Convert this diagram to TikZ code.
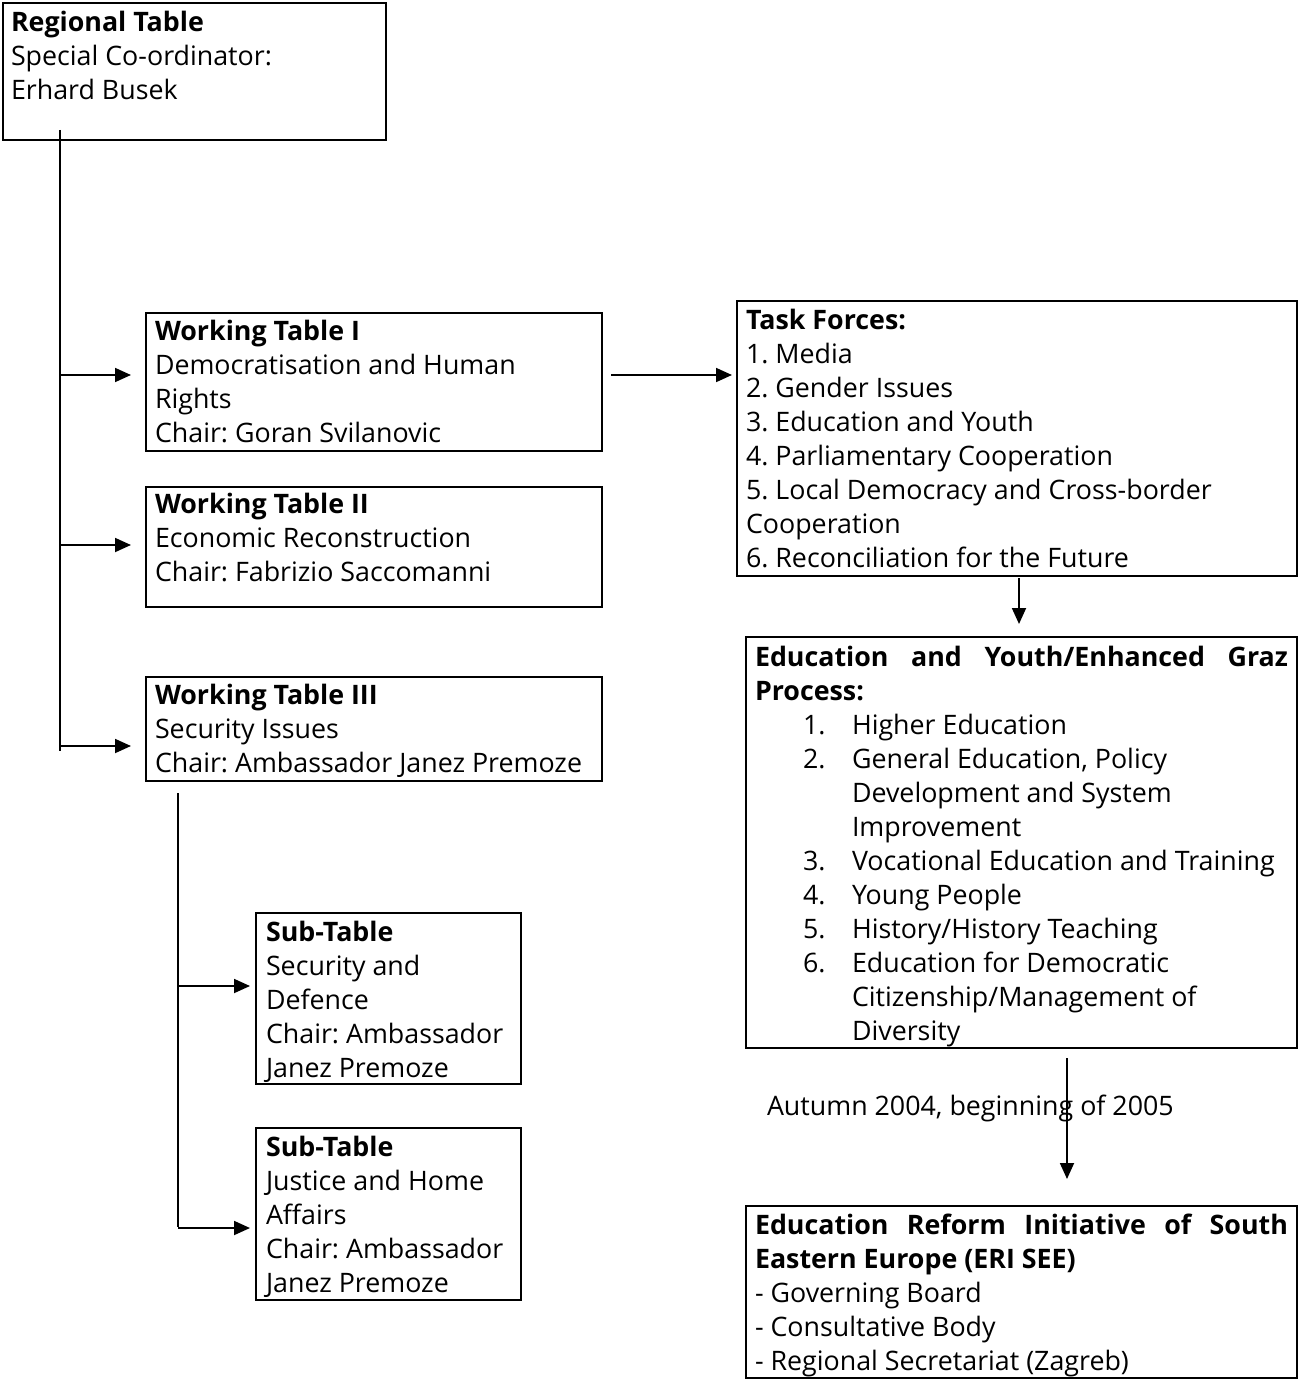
\documentclass[tikz,border=0pt]{standalone}
\usepackage{fontspec}
\setmainfont{Open Sans}
\usetikzlibrary{arrows.meta,calc}
\frenchspacing
\begin{document}
\begin{tikzpicture}[x=1pt,y=-1pt,
  box/.style={draw, line width=1.8pt, inner sep=0pt, outer sep=0pt, anchor=north west},
  txt/.style={inner sep=0pt, outer sep=0pt, anchor=north west, align=left, font=\fontsize{26.8}{34}\selectfont},
  arr/.style={line width=1.8pt, -{Triangle[length=16pt,width=14pt]}},
  ln/.style={line width=1.8pt}]
\useasboundingbox (0,0) rectangle (1298,1380);
% boxes
\node[box, minimum width=383pt, minimum height=137pt] (rt) at (3,3) {};
\node[box, minimum width=456pt, minimum height=138pt] (wt1) at (146,313) {};
\node[box, minimum width=456pt, minimum height=120pt] (wt2) at (146,487) {};
\node[box, minimum width=456pt, minimum height=104pt] (wt3) at (146,677) {};
\node[box, minimum width=560pt, minimum height=275pt] (tf) at (737,301) {};
\node[box, minimum width=551pt, minimum height=411pt] (edu) at (746,637) {};
\node[box, minimum width=551pt, minimum height=172pt] (eri) at (746,1206) {};
\node[box, minimum width=265pt, minimum height=171pt] (st1) at (256,913) {};
\node[box, minimum width=265pt, minimum height=172pt] (st2) at (256,1128) {};
% texts
\node[txt] (rtt) at (11,8) {\strut\textbf{Regional Table}\\Special Co-ordinator:\\Erhard Busek};
\node[txt] (wt1t) at (155,317) {\strut\textbf{Working Table I}\\Democratisation and Human\\Rights\\Chair: Goran Svilanovic};
\node[txt] (wt2t) at (155,490) {\strut\textbf{Working Table II}\\Economic Reconstruction\\Chair: Fabrizio Saccomanni};
\node[txt] (wt3t) at (155,681) {\strut\textbf{Working Table III}\\Security Issues\\Chair: Ambassador Janez Premoze};
\node[txt] (tft) at (746,306) {\strut\textbf{Task Forces:}\\1. Media\\2. Gender Issues\\3. Education and Youth\\4. Parliamentary Cooperation\\5. Local Democracy and Cross-border\\Cooperation\\6. Reconciliation for the Future};
\node[txt] (edut) at (755,643) {\strut\makebox[533pt][s]{\textbf{Education and Youth/Enhanced Graz}}\\\textbf{Process:}\\
\hspace*{48pt}\makebox[49pt][l]{1.}Higher Education\\
\hspace*{48pt}\makebox[49pt][l]{2.}General Education, Policy\\
\hspace*{97pt}Development and System\\
\hspace*{97pt}Improvement\\
\hspace*{48pt}\makebox[49pt][l]{3.}Vocational Education and Training\\
\hspace*{48pt}\makebox[49pt][l]{4.}Young People\\
\hspace*{48pt}\makebox[49pt][l]{5.}History/History Teaching\\
\hspace*{48pt}\makebox[49pt][l]{6.}Education for Democratic\\
\hspace*{97pt}Citizenship/Management of\\
\hspace*{97pt}Diversity};
\node[txt] (erit) at (755,1211) {\strut\makebox[533pt][s]{\textbf{Education Reform Initiative of South}}\\\textbf{Eastern Europe (ERI SEE)}\\- Governing Board\\- Consultative Body\\- Regional Secretariat (Zagreb)};
\node[txt] (st1t) at (266,918) {\strut\textbf{Sub-Table}\\Security and\\Defence\\Chair: Ambassador\\Janez Premoze};
\node[txt] (st2t) at (266,1133) {\strut\textbf{Sub-Table}\\Justice and Home\\Affairs\\Chair: Ambassador\\Janez Premoze};
\node[txt] (aut) at (767,1092) {\strut Autumn 2004, beginning of 2005};
% connector coordinates
\coordinate (trunkTop) at (60,130);
\coordinate (trunkBot) at (60,751);
\coordinate (b1) at (60,375);
\coordinate (b2) at (60,545);
\coordinate (b3) at (60,746);
\coordinate (subTop) at (178,793);
\coordinate (subBot) at (178,1227);
\coordinate (s1) at (178,986);
\coordinate (s2) at (178,1228);
\coordinate (tfOut) at (1019,578);
\coordinate (eduIn) at (1019,624);
\coordinate (eduOut) at (1067,1058);
\coordinate (eriIn) at (1067,1179);
% connectors
\draw[ln] (trunkTop) -- (trunkBot);
\draw[arr] (b1) -- ([xshift=-15pt]wt1.west |- b1);
\draw[arr] (b2) -- ([xshift=-15pt]wt2.west |- b2);
\draw[arr] (b3) -- ([xshift=-15pt]wt3.west |- b3);
\draw[arr] ([xshift=9pt]wt1.east |- b1) -- ([xshift=-5pt]tf.west |- b1);
\draw[arr] (tfOut) -- (eduIn);
\draw[arr] (eduOut) -- (eriIn);
\draw[ln] (subTop) -- (subBot);
\draw[arr] (s1) -- ([xshift=-6pt]st1.west |- s1);
\draw[arr] (s2) -- ([xshift=-6pt]st2.west |- s2);
\end{tikzpicture}
\end{document}
